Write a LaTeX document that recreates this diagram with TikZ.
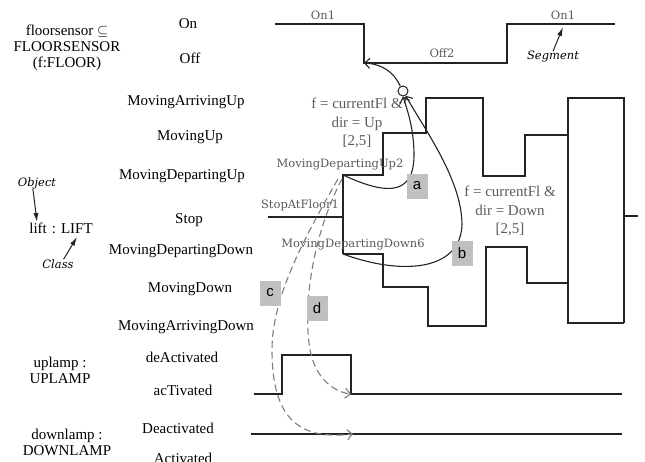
\documentclass[tikz,border=0pt]{standalone}
\usepackage{fontspec}
\setmainfont{Liberation Serif}
\newfontfamily\wavefont{DejaVu Serif}
\newfontfamily\tagfont{Liberation Sans}
\usetikzlibrary{arrows.meta,positioning,calc}
\definecolor{tdline}{RGB}{35,35,35}
\definecolor{tdgray}{RGB}{125,125,125}
\definecolor{tdtext}{RGB}{90,90,90}
\definecolor{tdbox}{RGB}{192,192,192}
\tikzset{
  statelbl/.style={font=\fontsize{15}{16}\selectfont, inner sep=0pt, anchor=base},
  objlbl/.style={font=\fontsize{15}{16}\selectfont, align=center, inner sep=0pt},
  seglbl/.style={font=\wavefont\fontsize{11.5}{13}\selectfont, text=tdtext, inner sep=0pt},
  notelbl/.style={font=\wavefont\itshape\fontsize{11.5}{13}\selectfont, inner sep=0pt},
  guardlbl/.style={font=\fontsize{15}{18.5}\selectfont, text=tdtext, align=center, inner sep=0pt},
  tagbox/.style={fill=tdbox, font=\tagfont\fontsize{15}{15}\selectfont,
                 minimum width=21pt, minimum height=25pt, inner sep=0pt},
  wave/.style={draw=tdline, line width=1.1pt},
  trans/.style={draw=tdline, line width=1.1pt, -{Straight Barb[length=5pt,width=10pt]}},
  dtrans/.style={draw=tdgray, line width=1.1pt, dash pattern=on 7pt off 4pt,
                 -{Straight Barb[length=5pt,width=10pt]}},
  pointer/.style={draw=tdline, line width=1pt, -{Latex[length=9pt,width=5pt]}},
}
\begin{document}
\begin{tikzpicture}[x=1pt, y=-1pt]
\useasboundingbox (0,0) rectangle (645,461);
% Left: objects and their classes
\node[objlbl] (fsobj) at (67,48) {floorsensor $\subseteq$\\FLOORSENSOR\\(f:FLOOR)};
\node[objlbl, anchor=base] (liftobj) at (61,233) {lift\,\,: LIFT};
\node[objlbl] (upobj) at (60,370) {uplamp :\\UPLAMP};
\node[objlbl] (dnobj) at (67,442) {downlamp :\\DOWNLAMP};
\node[notelbl] (objnote) at (37,183) {Object};
\node[notelbl] (classnote) at (58,264) {Class};
\coordinate (objtip) at (37,222);
\coordinate (classtip) at (77,237);
\draw[pointer] (objnote.235) -- (objtip);
\draw[pointer] (classnote.40) -- (classtip);
% State names
\node[statelbl] (sOn) at (188,28) {On};
\node[statelbl] (sOff) at (190,63) {Off};
\node[statelbl] (sMAU) at (186,105) {MovingArrivingUp};
\node[statelbl] (sMU) at (190,140) {MovingUp};
\node[statelbl] (sMDU) at (182,179) {MovingDepartingUp};
\node[statelbl] (sStop) at (189,223) {Stop};
\node[statelbl] (sMDD) at (181,254) {MovingDepartingDown};
\node[statelbl] (sMD) at (190,292) {MovingDown};
\node[statelbl] (sMAD) at (186,330) {MovingArrivingDown};
\node[statelbl] (sDeAct) at (182,362) {deActivated};
\node[statelbl] (sAct) at (183,395) {acTivated};
\node[statelbl] (sDeact) at (178,433) {Deactivated};
\node[statelbl] (sActd) at (183,463) {Activated};
% floorsensor timeline
\draw[wave] (275,24) -- (364,24) -- (364,63) -- (507,63) -- (507,24) -- (615,24);
\coordinate (offcorner) at (364,63);
\node[seglbl] (on1a) at (323,15) {On1};
\node[seglbl] (off2) at (442,53) {Off2};
\node[seglbl] (on1b) at (563,15) {On1};
\node[notelbl] (segnote) at (553,57) {Segment};
\coordinate (segtip) at (563,27);
\draw[pointer] (segnote.north) -- (segtip);
% lift timeline
\draw[wave] (268,217) -- (343,217);
\draw[wave] (343,254) -- (343,175) -- (383,175) -- (383,133) -- (426,133) -- (426,98)
  -- (483,98) -- (483,176) -- (525,176) -- (525,135) -- (568,135) -- (568,98)
  -- (624,98) -- (624,323);
\draw[wave] (343,254) -- (383,254) -- (383,287) -- (428,287) -- (428,326) -- (486,326)
  -- (486,247) -- (527,247) -- (527,283) -- (568,283) -- (568,323) -- (624,323);
\draw[wave] (568,135) -- (568,283);
\draw[wave] (624,216) -- (638,216);
\coordinate (mdu2) at (343,175);
\coordinate (mdd6) at (343,254);
\node[seglbl] (segMDU) at (340,165) {MovingDepartingUp2};
\node[seglbl] (segStop) at (300,205) {StopAtFloor1};
\node[seglbl] (segMDD) at (353,245) {MovingDepartingDown6};
% lamps
\draw[wave] (254,394) -- (282,394) -- (282,355) -- (351,355) -- (351,394) -- (622,394);
\draw[wave] (251,434) -- (622,434);
\coordinate (upfall) at (351,394);
\coordinate (dnend) at (353,434);
% guards and junction
\node[guardlbl] (guardup) at (357,123) {f = currentFl \&\\dir = Up\\{}[2,5]};
\node[guardlbl] (guarddn) at (510,211) {f = currentFl \&\\dir = Down\\{}[2,5]};
\node[draw=tdline, line width=1pt, fill=white, circle, minimum size=10pt, inner sep=0pt] (junc) at (403,91) {};
\draw[trans] (mdu2) .. controls (380,192) and (414,200) .. (414,155)
  .. controls (414,130) and (408,112) .. (junc.south);
\draw[trans] (mdd6) .. controls (400,275) and (460,272) .. (462,225)
  .. controls (462,180) and (425,130) .. (junc.-60);
\draw[trans] (junc.120) .. controls (394,72) and (382,64) .. (offcorner);
% dashed triggers
\coordinate (cstart) at (338,179);
\coordinate (dstart) at (342,179);
\draw[dtrans] (cstart) .. controls (300,245) and (272,300) .. (272,350)
  .. controls (272,420) and (300,440) .. (dnend);
\draw[dtrans] (dstart) .. controls (315,230) and (302,300) .. (310,350)
  .. controls (316,380) and (335,392) .. (upfall);
% tags
\node[tagbox] (tagA) at (417,186) {a};
\node[tagbox] (tagB) at (462,253) {b};
\node[tagbox] (tagC) at (270,293) {c};
\node[tagbox] (tagD) at (317,308) {d};
\end{tikzpicture}
\end{document}
